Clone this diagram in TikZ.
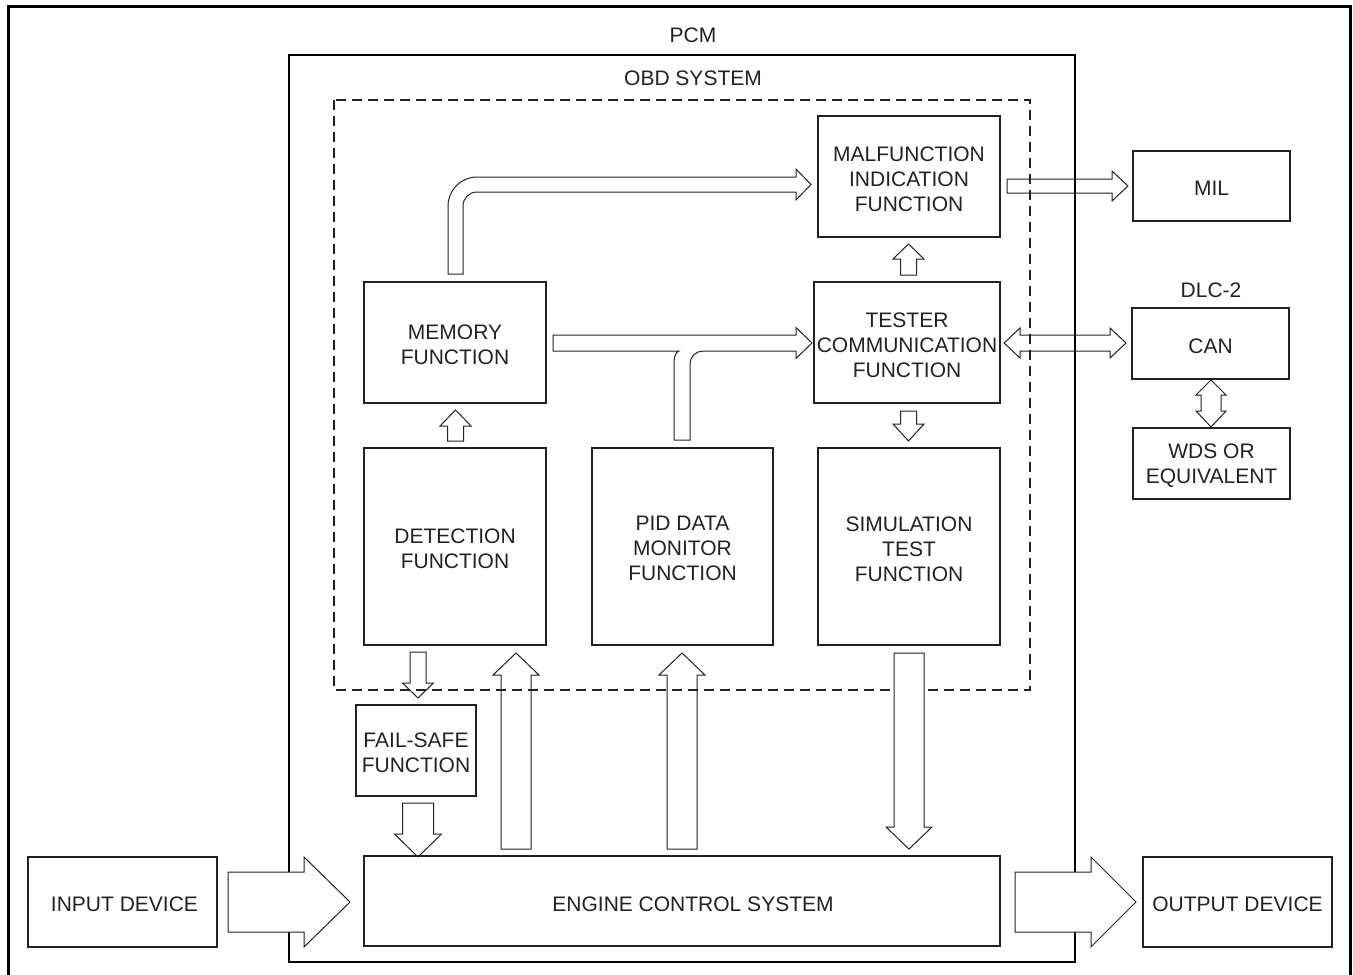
\documentclass[tikz,border=0pt]{standalone}
\usepackage{fontspec}
\setmainfont{Liberation Sans}
\definecolor{ink}{HTML}{222222}
\tikzset{
  box/.style={draw=ink, line width=0.65pt, inner sep=0pt},
  lbl/.style={inner sep=0pt, text=ink, align=center},
  boxtxt/.style={label={[lbl, yshift=-1.15pt]center:#1}},
  blk/.style={draw=ink, line width=0.5pt, line join=miter},
}
\newcommand\hblk[7]{\draw[blk,#7] ({#2},{#1-#5}) -- ({#3},{#1-#5}) -- ({#3},{#1-#6}) -- ({#4},{#1}) -- ({#3},{#1+#6}) -- ({#3},{#1+#5}) -- ({#2},{#1+#5}) -- cycle;}
\newcommand\vblk[7]{\draw[blk,#7] ({#1-#5},{#2}) -- ({#1-#5},{#3}) -- ({#1-#6},{#3}) -- ({#1},{#4}) -- ({#1+#6},{#3}) -- ({#1+#5},{#3}) -- ({#1+#5},{#2}) -- cycle;}
\newcommand\hdblk[7]{\draw[blk] ({#2},{#1}) -- ({#3},{#1-#7}) -- ({#3},{#1-#6}) -- ({#4},{#1-#6}) -- ({#4},{#1-#7}) -- ({#5},{#1}) -- ({#4},{#1+#7}) -- ({#4},{#1+#6}) -- ({#3},{#1+#6}) -- ({#3},{#1+#7}) -- cycle;}
\newcommand\vdblk[7]{\draw[blk] ({#1},{#2}) -- ({#1-#7},{#3}) -- ({#1-#6},{#3}) -- ({#1-#6},{#4}) -- ({#1-#7},{#4}) -- ({#1},{#5}) -- ({#1+#7},{#4}) -- ({#1+#6},{#4}) -- ({#1+#6},{#3}) -- ({#1+#7},{#3}) -- cycle;}
\begin{document}
\begin{tikzpicture}[x=0.5pt, y=-0.5pt, font=\fontsize{10.5}{12.5}\selectfont]
\useasboundingbox (0,0) rectangle (1353,974);
% outer frame
\draw[line width=1.5pt, black] (8,976) -- (8,7) -- (1350,7) -- (1350,976);
% PCM box
\draw[line width=0.65pt, black] (289,55) rectangle (1075,962);
\node[lbl] (pcmlabel) at (693,35.5) {PCM};
% input/output arrows (cover the PCM line)
\hblk{902}{228}{304}{350}{30}{45}{fill=white}
\hblk{902}{1015}{1091}{1136}{30}{45}{fill=white}
% OBD dashed box
\draw[draw=ink, line width=0.6pt, dash pattern=on 5pt off 3pt] (334,100) rectangle (1030,690);
\node[lbl] (obdlabel) at (693,78) {OBD SYSTEM};
% boxes
\node[box, minimum width=91pt, minimum height=60.5pt, boxtxt={MALFUNCTION\\INDICATION\\FUNCTION}] (malf) at (909,176.5) {};
\node[box, minimum width=78.5pt, minimum height=35pt, boxtxt={MIL}] (mil) at (1211.5,186) {};
\node[box, minimum width=93pt, minimum height=60.5pt, boxtxt={TESTER\\COMMUNICATION\\FUNCTION}] (tester) at (907,342.5) {};
\node[lbl] (dlc) at (1211,290.5) {DLC-2};
\node[box, minimum width=78.5pt, minimum height=35.5pt, boxtxt={CAN}] (can) at (1210.5,343.5) {};
\node[box, minimum width=78.5pt, minimum height=35.5pt, boxtxt={WDS OR\\EQUIVALENT}] (wds) at (1211.5,463.5) {};
\node[box, minimum width=91pt, minimum height=60.5pt, boxtxt={MEMORY\\FUNCTION}] (memory) at (455,342.5) {};
\node[box, minimum width=91pt, minimum height=98.5pt, boxtxt={DETECTION\\FUNCTION}] (detect) at (455,546.5) {};
\node[box, minimum width=90.5pt, minimum height=98.5pt, boxtxt={PID DATA\\MONITOR\\FUNCTION}] (pid) at (682.5,546.5) {};
\node[box, minimum width=91pt, minimum height=98.5pt, boxtxt={SIMULATION\\TEST\\FUNCTION}] (sim) at (909,546.5) {};
\node[box, minimum width=60pt, minimum height=45.5pt, boxtxt={FAIL-SAFE\\FUNCTION}] (failsafe) at (416,750.5) {};
\node[box, minimum width=318pt, minimum height=45pt] (engine) at (682,901) {};
\node[lbl] (enginelabel) at (693,904) {ENGINE CONTROL SYSTEM};
\node[box, minimum width=94.5pt, minimum height=45pt, boxtxt={\hspace*{2pt}INPUT DEVICE}] (input) at (122.5,902) {};
\node[box, minimum width=94.5pt, minimum height=45pt, boxtxt={OUTPUT DEVICE}] (output) at (1237.5,902) {};
% memory -> malfunction (curved)
\draw[blk] (448,274) -- (448,206) arc[start angle=180, end angle=90, radius=14.5pt] -- (796,177) -- (796,169) -- (811,184.5) -- (796,200) -- (796,192) -- (477,192) arc[start angle=90, end angle=180, radius=7pt] -- (463,274) -- cycle;
% memory -> tester with PID branch
\draw[blk] (553,335) -- (796,335) -- (796,327.5) -- (812,343) -- (796,358.5) -- (796,351) -- (703,351) arc[start angle=90, end angle=180, radius=6.5pt] -- (690,440) -- (674,440) -- (674,363) .. controls (674,356) and (676,352) .. (679,351) -- (553,351) -- cycle;
% malfunction -> MIL
\hblk{186}{1007}{1112}{1128}{7}{15}{}
% tester <-> CAN
\hdblk{343}{1004}{1020}{1110}{1126}{8}{15}
% tester -> malfunction
\vblk{908.5}{275}{259}{244}{8}{15.5}{}
% tester -> simulation
\vblk{908.5}{411}{424}{441}{8}{15.5}{}
% CAN <-> WDS
\vdblk{1211}{380}{395}{411}{427}{10}{15}
% detection -> memory
\vblk{455.5}{441}{426}{410}{8}{15.5}{}
% detection -> fail-safe
\vblk{418}{652}{683}{698}{8}{15.5}{}
% fail-safe -> engine
\vblk{418}{803}{834}{857}{15.5}{23.5}{}
% engine -> detection
\vblk{516}{849}{675}{653}{15}{23}{}
% engine -> PID
\vblk{682}{849}{675}{653}{15}{23}{}
% simulation -> engine
\vblk{909}{653}{827}{849}{15}{23}{fill=white}
\end{tikzpicture}
\end{document}
